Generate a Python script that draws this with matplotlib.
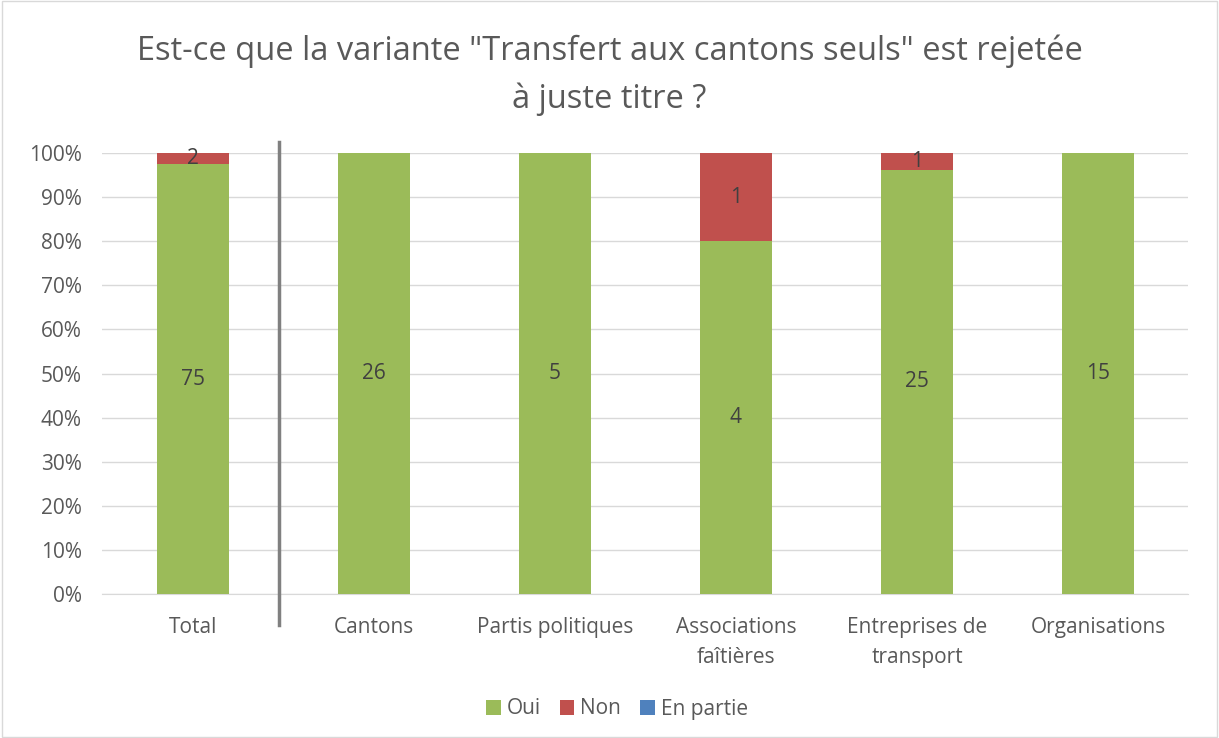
import matplotlib.pyplot as plt
import numpy as np
from matplotlib.ticker import PercentFormatter

categories = ['Total', 'Cantons', 'Partis politiques', 'Associations\nfaîtières',
              'Entreprises de\ntransport', 'Organisations']
oui = [75, 26, 5, 4, 25, 15]
non = [2, 0, 0, 1, 1, 0]
en_partie = [0, 0, 0, 0, 0, 0]

plt.rcParams['font.family'] = ['Open Sans', 'DejaVu Sans']
text_col = '#595959'

oui_a = np.array(oui, dtype=float)
non_a = np.array(non, dtype=float)
ep_a = np.array(en_partie, dtype=float)
tot = oui_a + non_a + ep_a
oui_p = oui_a / tot
non_p = non_a / tot
ep_p = ep_a / tot

fig = plt.figure(figsize=(12.19, 7.38), dpi=100)
ax = fig.add_axes([102.5 / 1219, 1 - 594 / 738, 1086 / 1219, 441 / 738])

x = np.arange(len(categories))
w = 0.4
b1 = ax.bar(x, oui_p, w, color='#9BBB59', label='Oui', zorder=3)
b2 = ax.bar(x, non_p, w, bottom=oui_p, color='#C0504D', label='Non', zorder=3)
b3 = ax.bar(x, ep_p, w, bottom=oui_p + non_p, color='#4F81BD', label='En partie', zorder=3)

for i in range(len(categories)):
    if oui[i]:
        ax.text(x[i], oui_p[i] / 2, str(oui[i]), ha='center', va='center',
                fontsize=15, color='#404040', zorder=4)
    if non[i]:
        ax.text(x[i], oui_p[i] + non_p[i] / 2, str(non[i]), ha='center', va='center',
                fontsize=15, color='#404040', zorder=4)

ax.set_xlim(-0.5, len(categories) - 0.5)
ax.set_ylim(0, 1)
ax.set_yticks(np.arange(0, 1.01, 0.1))
ax.yaxis.set_major_formatter(PercentFormatter(1.0, decimals=0))
ax.grid(axis='y', color='#D9D9D9', lw=1, zorder=0)
for s in ['top', 'right', 'left']:
    ax.spines[s].set_visible(False)
ax.spines['bottom'].set_color('#D9D9D9')
ax.tick_params(axis='both', length=0, labelsize=15, colors=text_col)
ax.tick_params(axis='y', pad=15)
ax.tick_params(axis='x', pad=16.5)
ax.set_xticks(x)
ax.set_xticklabels(categories, linespacing=1.55)

# separator between Total and the groups
ax.plot([0.475, 0.475], [1.025, -0.07], color='#808080', lw=2.5,
        clip_on=False, zorder=5)

fig.suptitle('Est-ce que la variante "Transfert aux cantons seuls" est rejetée\nà juste titre ?',
             y=1 - 35 / 738, va='top', fontsize=23.5, color=text_col, linespacing=1.55)

fig.legend(handles=[b1, b2, b3], loc='center', bbox_to_anchor=(617 / 1219, 1 - 709 / 738),
           ncol=3, frameon=False, fontsize=15, labelcolor=text_col,
           handlelength=0.7, handleheight=0.7, handletextpad=0.3, columnspacing=0.9)

fig.patches.append(plt.Rectangle((0.002, 0.002), 0.996, 0.996, transform=fig.transFigure,
                                 fill=False, edgecolor='#D9D9D9', lw=1))

fig.savefig('out.png', dpi=100, facecolor='white')
